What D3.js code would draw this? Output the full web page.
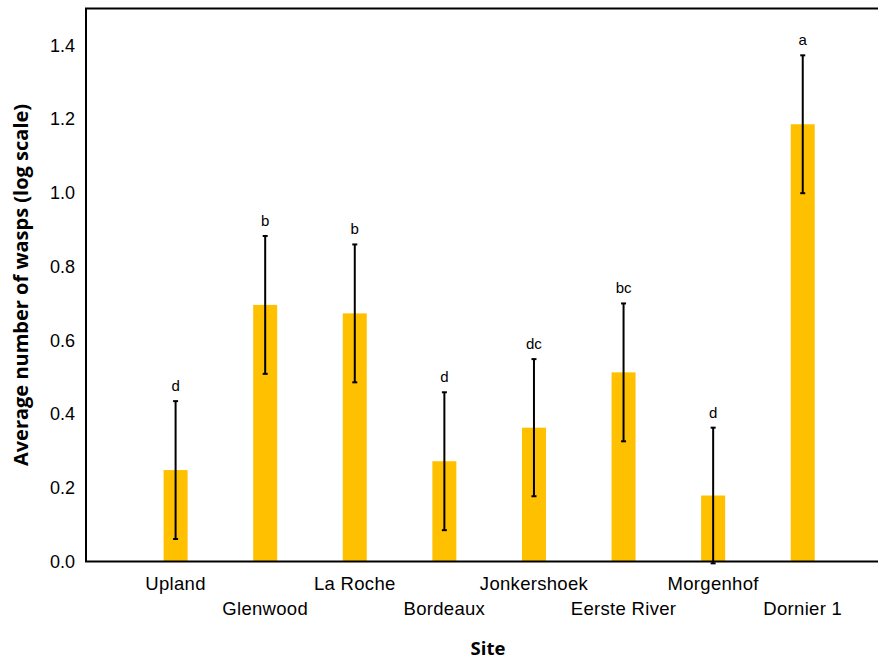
<!DOCTYPE html>
<html>
<head>
<meta charset="utf-8">
<script src="https://cdn.jsdelivr.net/npm/d3@7"></script>
<style>
  body { margin: 0; background: #fff; }
  svg { display: block; }
  .arial { font-family: "Liberation Sans", Arial, sans-serif; }
  .title { font-family: "Open Sans", sans-serif; font-weight: bold; }
</style>
</head>
<body>
<svg id="chart" width="878" height="661"></svg>
<script>
const sites = ['Upland', 'Glenwood', 'La Roche', 'Bordeaux', 'Jonkershoek', 'Eerste River', 'Morgenhof', 'Dornier 1'];
const means = [0.248, 0.696, 0.673, 0.272, 0.363, 0.513, 0.179, 1.186];
const errors = [0.187, 0.187, 0.187, 0.187, 0.186, 0.187, 0.184, 0.187];
const letters = ['d', 'b', 'b', 'd', 'dc', 'bc', 'd', 'a'];
const yTicks = [0, 0.2, 0.4, 0.6, 0.8, 1.0, 1.2, 1.4];

const width = 878, height = 661;
const margin = {top: 8.5, right: 0, bottom: 99.5, left: 86};
const plotH = height - margin.top - margin.bottom;

const svg = d3.select('#chart');

const x = d3.scaleLinear().domain([0, 8.84]).range([margin.left, width]);
const y = d3.scaleLinear().domain([0, 1.5]).range([margin.top + plotH, margin.top]);

const barW = 24;

// bars
svg.append('g').selectAll('rect')
    .data(means)
    .join('rect')
    .attr('x', (d, i) => x(i + 1) - barW / 2)
    .attr('y', d => y(d))
    .attr('width', barW)
    .attr('height', d => y(0) - y(d))
    .attr('fill', '#ffc000');

// error bars
const eb = svg.append('g').attr('stroke', '#000').attr('stroke-width', 2);
means.forEach((m, i) => {
    const cx = x(i + 1);
    eb.append('line').attr('x1', cx).attr('x2', cx)
        .attr('y1', y(m - errors[i])).attr('y2', y(m + errors[i]));
    [m - errors[i], m + errors[i]].forEach(v => {
        eb.append('line').attr('x1', cx - 2.5).attr('x2', cx + 2.5)
            .attr('y1', y(v)).attr('y2', y(v));
    });
});

// significance letters
svg.append('g').selectAll('text')
    .data(letters)
    .join('text')
    .attr('class', 'arial')
    .attr('x', (d, i) => x(i + 1))
    .attr('y', (d, i) => y(means[i] + errors[i]) - 10)
    .attr('text-anchor', 'middle')
    .attr('font-size', 15)
    .attr('fill', '#000')
    .text(d => d);

// frame lines: left, top, bottom
svg.append('line').attr('x1', margin.left).attr('x2', margin.left)
    .attr('y1', margin.top).attr('y2', y(0))
    .attr('stroke', '#000').attr('stroke-width', 2);
svg.append('line').attr('x1', margin.left - 1).attr('x2', width)
    .attr('y1', margin.top).attr('y2', margin.top)
    .attr('stroke', '#000').attr('stroke-width', 2);
svg.append('line').attr('x1', margin.left - 1).attr('x2', width)
    .attr('y1', y(0)).attr('y2', y(0))
    .attr('stroke', '#000').attr('stroke-width', 2);

// y axis labels
const yAxis = d3.axisLeft(y).tickValues(yTicks).tickSize(0).tickPadding(11)
    .tickFormat(d3.format('.1f'));
svg.append('g')
    .attr('transform', `translate(${margin.left},0)`)
    .call(yAxis)
    .call(g => g.select('.domain').remove())
    .call(g => g.attr('font-family', null).attr('font-size', null))
    .call(g => g.selectAll('text')
        .attr('class', 'arial')
        .attr('font-size', 18).attr('fill', '#000'));

// x labels, staggered
svg.append('g').selectAll('text')
    .data(sites)
    .join('text')
    .attr('class', 'arial')
    .attr('x', (d, i) => x(i + 1))
    .attr('y', (d, i) => i % 2 === 0 ? 590 : 615)
    .attr('text-anchor', 'middle')
    .attr('font-size', 18.5)
    .attr('letter-spacing', 0.3)
    .attr('fill', '#000')
    .text(d => d);

// axis titles
svg.append('text')
    .attr('class', 'title')
    .attr('x', 488).attr('y', 655)
    .attr('text-anchor', 'middle')
    .attr('font-size', 18.5)
    .text('Site');

svg.append('text')
    .attr('class', 'title')
    .attr('transform', `translate(28,${margin.top + plotH / 2}) rotate(-90)`)
    .attr('text-anchor', 'middle')
    .attr('font-size', 20)
    .text('Average number of wasps (log scale)');
</script>
</body>
</html>
